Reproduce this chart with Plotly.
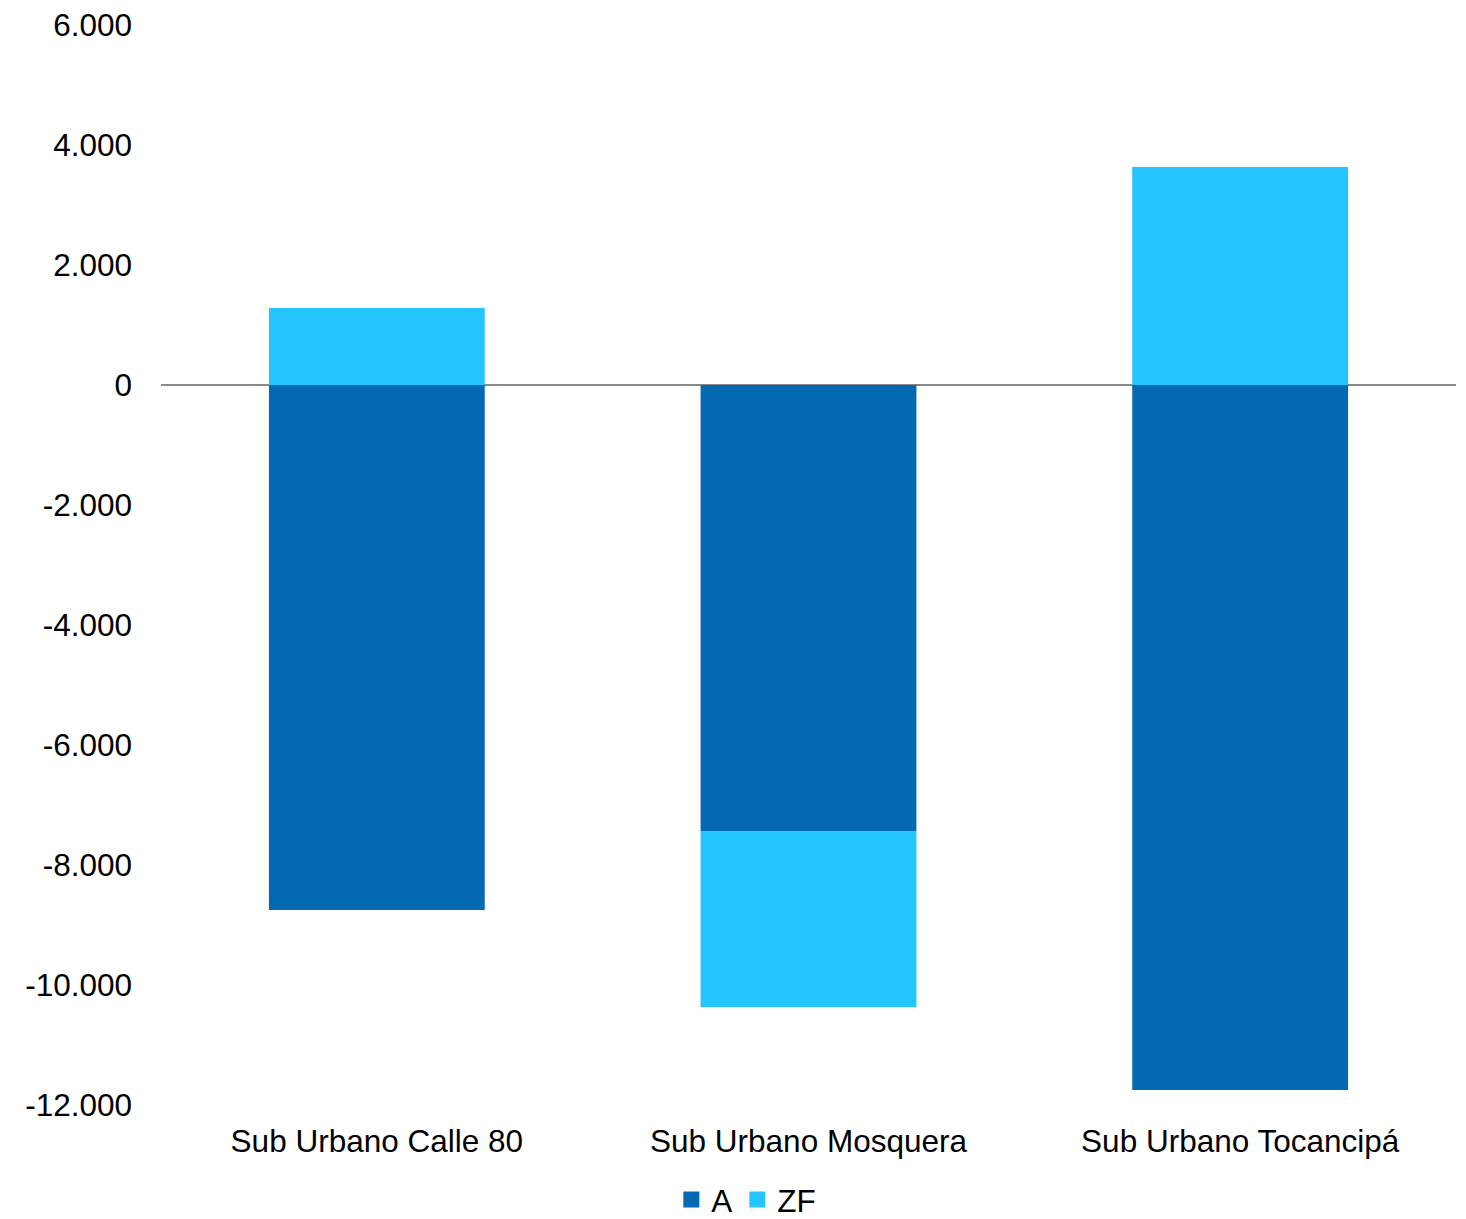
import plotly.graph_objects as go

categories = ["Sub Urbano Calle 80", "Sub Urbano Mosquera", "Sub Urbano Tocancipá"]
serie_a = [-8750, -7433, -11750]
serie_zf = [1283, -2933, 3633]
tick_vals = [6000, 4000, 2000, 0, -2000, -4000, -6000, -8000, -10000, -12000]
tick_text = ["6.000", "4.000", "2.000", "0", "-2.000", "-4.000", "-6.000", "-8.000", "-10.000", "-12.000"]

FONT = "Liberation Sans, Arial, sans-serif"
COL_A = "#0469B3"
COL_ZF = "#25C5FF"

fig = go.Figure()
fig.add_trace(go.Bar(x=categories, y=serie_a, name="A", showlegend=False,
                     marker=dict(color=COL_A, line=dict(width=0))))
fig.add_trace(go.Bar(x=categories, y=serie_zf, name="ZF", showlegend=False,
                     marker=dict(color=COL_ZF, line=dict(width=0))))
# legend entries with larger square symbols
for nm, col in [("A", COL_A), ("ZF", COL_ZF)]:
    fig.add_trace(go.Scatter(x=[None], y=[None], mode="markers", name=nm,
                             marker=dict(symbol="square", size=16, color=col)))

fig.update_layout(
    width=1466, height=1219,
    margin=dict(l=161, r=10, t=25, b=114, autoexpand=False),
    barmode="relative",
    bargap=0.5,
    plot_bgcolor="white",
    paper_bgcolor="white",
    font=dict(family=FONT, size=31.5, color="#000000"),
    showlegend=True,
    legend=dict(orientation="h", x=0.452, xanchor="center", yref="container",
                y=0.016, yanchor="middle",
                font=dict(size=31.5), itemwidth=30, tracegroupgap=0, traceorder="normal"),
)
fig.update_xaxes(showgrid=False, showline=False, zeroline=False, ticks="", automargin=False,
                 ticklabelstandoff=14, tickfont=dict(size=31.5))
fig.update_yaxes(range=[-12000, 6000], tickvals=tick_vals, ticktext=tick_text, automargin=False,
                 showgrid=False, showline=False, zeroline=True, zerolinecolor="#898989",
                 zerolinewidth=2, ticks="", ticklabelstandoff=28, tickfont=dict(size=31.5))

fig.write_html("out.html")
